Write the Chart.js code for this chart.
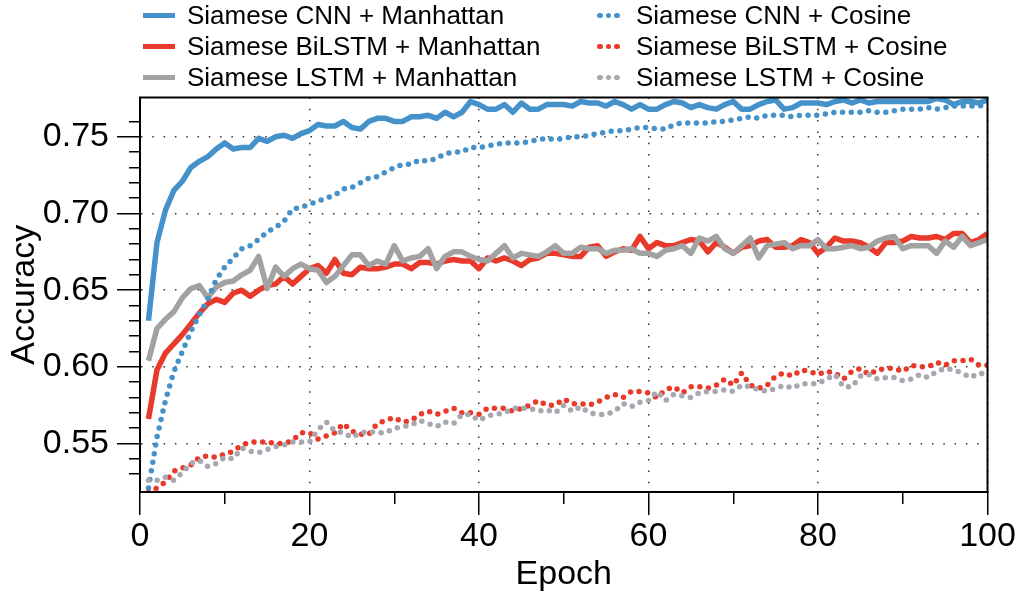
<!DOCTYPE html>
<html>
<head>
<meta charset="utf-8">
<script src="https://cdn.jsdelivr.net/npm/chart.js@4/dist/chart.umd.min.js"></script>
<style>
  html, body { margin: 0; padding: 0; background: #fff; }
  #wrap { position: relative; width: 1019px; height: 595px; }
  #legend {
    position: absolute; top: 0; left: 143px;
    display: grid; grid-auto-flow: column;
    grid-template-rows: repeat(3, 31px); grid-template-columns: 454px auto;
    font: 26px 'Liberation Sans', Helvetica, Arial, sans-serif; color: #000;
  }
  .item { display: flex; align-items: center; height: 31px; white-space: nowrap; }
  .sym { display: flex; align-items: center; flex: none; }
  .bar { width: 32px; height: 5.5px; }
  .dot { width: 5.5px; height: 5.5px; border-radius: 50%; margin-right: 3.2px; }
</style>
</head>
<body>
<div id="wrap">
  <canvas id="chart" width="1019" height="595"></canvas>
  <div id="legend"></div>
</div>
<script>
const epochs = Array.from({ length: 100 }, (_, i) => i + 1);

const cnnManhattan = [
  0.630, 0.681, 0.702, 0.715, 0.721, 0.730, 0.734, 0.737, 0.742, 0.746,
  0.742, 0.743, 0.743, 0.749, 0.747, 0.750, 0.751, 0.749, 0.752, 0.754,
  0.758, 0.757, 0.757, 0.760, 0.756, 0.755, 0.760, 0.762, 0.762, 0.760,
  0.760, 0.763, 0.763, 0.764, 0.762, 0.766, 0.763, 0.766, 0.773, 0.771,
  0.768, 0.768, 0.771, 0.766, 0.772, 0.768, 0.768, 0.771, 0.771, 0.771,
  0.770, 0.773, 0.772, 0.772, 0.770, 0.773, 0.771, 0.768, 0.771, 0.768,
  0.768, 0.771, 0.773, 0.772, 0.769, 0.771, 0.769, 0.768, 0.771, 0.773,
  0.768, 0.768, 0.771, 0.773, 0.774, 0.768, 0.769, 0.772, 0.772, 0.772,
  0.771, 0.773, 0.774, 0.772, 0.774, 0.772, 0.773, 0.773, 0.773, 0.773,
  0.773, 0.773, 0.773, 0.775, 0.774, 0.771, 0.773, 0.773, 0.772, 0.774
];
const bilstmManhattan = [
  0.566, 0.598, 0.609, 0.615, 0.621, 0.628, 0.635, 0.641, 0.644, 0.642,
  0.648, 0.650, 0.646, 0.650, 0.653, 0.654, 0.659, 0.654, 0.659, 0.664,
  0.666, 0.661, 0.670, 0.661, 0.660, 0.665, 0.664, 0.664, 0.665, 0.667,
  0.667, 0.664, 0.668, 0.668, 0.667, 0.669, 0.670, 0.669, 0.669, 0.664,
  0.671, 0.669, 0.671, 0.669, 0.666, 0.670, 0.671, 0.674, 0.674, 0.673,
  0.672, 0.672, 0.678, 0.679, 0.672, 0.675, 0.677, 0.676, 0.685, 0.677,
  0.681, 0.679, 0.679, 0.681, 0.683, 0.682, 0.675, 0.681, 0.678, 0.674,
  0.678, 0.679, 0.682, 0.683, 0.678, 0.678, 0.679, 0.683, 0.681, 0.674,
  0.678, 0.684, 0.682, 0.682, 0.681, 0.678, 0.674, 0.681, 0.681, 0.682,
  0.685, 0.684, 0.684, 0.685, 0.683, 0.687, 0.687, 0.681, 0.683, 0.687
];
const lstmManhattan = [
  0.604, 0.625, 0.631, 0.636, 0.645, 0.651, 0.653, 0.645, 0.652, 0.655,
  0.656, 0.660, 0.663, 0.672, 0.651, 0.665, 0.659, 0.664, 0.667, 0.664,
  0.663, 0.655, 0.659, 0.666, 0.673, 0.673, 0.666, 0.669, 0.667, 0.679,
  0.669, 0.671, 0.672, 0.677, 0.664, 0.672, 0.675, 0.675, 0.672, 0.670,
  0.669, 0.674, 0.679, 0.671, 0.674, 0.673, 0.672, 0.675, 0.679, 0.674,
  0.674, 0.678, 0.677, 0.677, 0.674, 0.676, 0.676, 0.677, 0.674, 0.674,
  0.672, 0.676, 0.677, 0.679, 0.674, 0.684, 0.682, 0.685, 0.677, 0.674,
  0.679, 0.684, 0.671, 0.679, 0.680, 0.681, 0.677, 0.679, 0.679, 0.683,
  0.677, 0.677, 0.678, 0.679, 0.677, 0.678, 0.682, 0.684, 0.685, 0.677,
  0.679, 0.679, 0.679, 0.674, 0.682, 0.678, 0.685, 0.679, 0.681, 0.683
];
const cnnCosine = [
  0.521, 0.554, 0.578, 0.597, 0.610, 0.623, 0.634, 0.644, 0.657, 0.665,
  0.671, 0.677, 0.679, 0.683, 0.688, 0.691, 0.695, 0.703, 0.704, 0.706,
  0.708, 0.710, 0.712, 0.716, 0.717, 0.720, 0.723, 0.724, 0.727, 0.730,
  0.732, 0.732, 0.735, 0.734, 0.736, 0.739, 0.740, 0.740, 0.743, 0.743,
  0.744, 0.745, 0.746, 0.746, 0.746, 0.747, 0.748, 0.749, 0.748, 0.749,
  0.750, 0.750, 0.751, 0.752, 0.753, 0.754, 0.754, 0.755, 0.756, 0.756,
  0.755, 0.755, 0.758, 0.759, 0.759, 0.759, 0.759, 0.760, 0.760, 0.761,
  0.762, 0.763, 0.762, 0.764, 0.764, 0.764, 0.763, 0.764, 0.764, 0.764,
  0.765, 0.766, 0.766, 0.766, 0.766, 0.767, 0.766, 0.766, 0.767, 0.768,
  0.768, 0.768, 0.769, 0.768, 0.769, 0.770, 0.770, 0.770, 0.770, 0.771
];
const bilstmCosine = [
  0.518, 0.521, 0.525, 0.532, 0.534, 0.536, 0.541, 0.542, 0.541, 0.543,
  0.545, 0.549, 0.551, 0.551, 0.551, 0.550, 0.550, 0.552, 0.557, 0.557,
  0.553, 0.555, 0.557, 0.563, 0.558, 0.556, 0.556, 0.563, 0.565, 0.567,
  0.564, 0.565, 0.569, 0.571, 0.569, 0.571, 0.573, 0.570, 0.570, 0.569,
  0.573, 0.573, 0.573, 0.571, 0.573, 0.575, 0.578, 0.575, 0.575, 0.579,
  0.576, 0.576, 0.575, 0.577, 0.580, 0.582, 0.580, 0.584, 0.584, 0.583,
  0.580, 0.585, 0.587, 0.583, 0.587, 0.587, 0.586, 0.588, 0.592, 0.588,
  0.596, 0.588, 0.586, 0.588, 0.594, 0.596, 0.594, 0.598, 0.597, 0.595,
  0.597, 0.596, 0.592, 0.597, 0.599, 0.595, 0.598, 0.599, 0.599, 0.597,
  0.601, 0.600, 0.600, 0.603, 0.601, 0.604, 0.604, 0.605, 0.601, 0.601
];
const lstmCosine = [
  0.526, 0.526, 0.528, 0.526, 0.531, 0.537, 0.539, 0.535, 0.537, 0.541,
  0.540, 0.547, 0.545, 0.544, 0.546, 0.548, 0.549, 0.551, 0.551, 0.551,
  0.559, 0.564, 0.558, 0.557, 0.554, 0.557, 0.558, 0.557, 0.557, 0.560,
  0.561, 0.562, 0.565, 0.563, 0.561, 0.564, 0.563, 0.569, 0.569, 0.565,
  0.568, 0.569, 0.570, 0.573, 0.573, 0.573, 0.571, 0.572, 0.570, 0.575,
  0.571, 0.574, 0.570, 0.569, 0.569, 0.571, 0.576, 0.574, 0.577, 0.578,
  0.584, 0.578, 0.582, 0.581, 0.580, 0.583, 0.584, 0.584, 0.585, 0.584,
  0.588, 0.587, 0.585, 0.584, 0.586, 0.588, 0.586, 0.589, 0.589, 0.589,
  0.592, 0.595, 0.587, 0.587, 0.594, 0.595, 0.592, 0.593, 0.593, 0.591,
  0.592, 0.595, 0.593, 0.597, 0.599, 0.598, 0.596, 0.593, 0.596, 0.595
];

const xTickLabels = [0, 20, 40, 60, 80, 100];
const yTickLabels = ['0.55', '0.60', '0.65', '0.70', '0.75'];

// legend order: manhattan column first, then cosine column
const series = [
  { label: 'Siamese CNN + Manhattan', data: cnnManhattan, color: '#4592cb', dotted: false },
  { label: 'Siamese BiLSTM + Manhattan', data: bilstmManhattan, color: '#e9392a', dotted: false },
  { label: 'Siamese LSTM + Manhattan', data: lstmManhattan, color: '#a2a2a2', dotted: false },
  { label: 'Siamese CNN + Cosine', data: cnnCosine, color: '#4592cb', dotted: true },
  { label: 'Siamese BiLSTM + Cosine', data: bilstmCosine, color: '#e9392a', dotted: true },
  { label: 'Siamese LSTM + Cosine', data: lstmCosine, color: '#a7a7b0', dotted: true }
];

Chart.defaults.font.family = "'Liberation Sans', Helvetica, Arial, sans-serif";
Chart.defaults.color = '#000';

const isMajorY = v => yTickLabels.includes(v.toFixed(2));

// box round the plot area
const frame = {
  id: 'frame',
  afterDatasetsDraw(chart) {
    const { ctx, chartArea: a } = chart;
    ctx.save();
    ctx.strokeStyle = '#000';
    ctx.lineWidth = 2;
    ctx.strokeRect(a.left, a.top, a.right - a.left, a.bottom - a.top);
    ctx.restore();
  }
};

const chart = new Chart(document.getElementById('chart'), {
  type: 'line',
  data: {
    datasets: series.map((s, i) => ({
      label: s.label,
      data: s.data.map((v, k) => ({ x: epochs[k], y: v })),
      borderColor: s.color,
      backgroundColor: s.color,
      borderWidth: 5.5,
      borderDash: s.dotted ? [0, 8.7] : [],
      borderCapStyle: s.dotted ? 'round' : 'butt',
      borderJoinStyle: 'round',
      pointRadius: 0,
      tension: 0,
      clip: 0,
      order: series.length - i
    }))
  },
  options: {
    responsive: false,
    animation: false,
    layout: { padding: { top: 97.5, right: 31.5, bottom: 0, left: 0 } },
    plugins: { legend: { display: false }, tooltip: { enabled: false } },
    scales: {
      x: {
        type: 'linear',
        min: 0,
        max: 100,
        afterFit: s => { s.height = 103; },
        ticks: {
          stepSize: 10,
          autoSkip: false,
          maxRotation: 0,
          padding: 1,
          font: { size: 34 },
          callback: v => xTickLabels.includes(v) ? String(v) : ''
        },
        grid: {
          color: c => (c.tick && xTickLabels.includes(c.tick.value)) ? '#333' : 'transparent',
          lineWidth: 1.5,
          tickLength: 23,
          tickColor: '#000',
          tickWidth: 1.5,
          tickBorderDash: c => (c.tick && xTickLabels.includes(c.tick.value)) ? [] : [11, 100]
        },
        border: { color: '#000', width: 2, dash: [1.5, 9.8] },
        title: { display: true, text: 'Epoch', font: { size: 34 }, padding: { top: 0, bottom: 0 } }
      },
      y: {
        min: 0.5184,
        max: 0.7756,
        afterFit: s => { s.width = 140; },
        afterBuildTicks: s => {
          s.ticks = s.ticks.filter(t => Math.abs(t.value * 100 - Math.round(t.value * 100)) < 1e-6);
        },
        ticks: {
          stepSize: 0.01,
          autoSkip: false,
          padding: 8,
          font: { size: 34 },
          callback: v => isMajorY(v) ? v.toFixed(2) : ''
        },
        grid: {
          color: c => (c.tick && isMajorY(c.tick.value)) ? '#333' : 'transparent',
          lineWidth: 1.5,
          tickLength: 23,
          tickColor: '#000',
          tickWidth: 1.5,
          tickBorderDash: c => (c.tick && isMajorY(c.tick.value)) ? [] : [0, 12, 11, 100]
        },
        border: { color: '#000', width: 2, dash: [1.5, 9.8] },
        title: { display: true, text: 'Accuracy', font: { size: 34 }, padding: { top: 4, bottom: 0 } }
      }
    }
  },
  plugins: [frame]
});

// html legend in two columns, built from the chart's datasets
const legend = document.getElementById('legend');
chart.data.datasets.forEach((ds, i) => {
  const item = document.createElement('div');
  item.className = 'item';
  const sym = document.createElement('span');
  sym.className = 'sym';
  if (series[i].dotted) {
    sym.style.width = '39px';
    for (let k = 0; k < 3; k++) {
      const d = document.createElement('span');
      d.className = 'dot';
      d.style.background = ds.borderColor;
      sym.appendChild(d);
    }
  } else {
    sym.style.width = '44px';
    const b = document.createElement('span');
    b.className = 'bar';
    b.style.background = ds.borderColor;
    sym.appendChild(b);
  }
  const txt = document.createElement('span');
  txt.textContent = ds.label;
  item.appendChild(sym);
  item.appendChild(txt);
  legend.appendChild(item);
});
</script>
</body>
</html>
